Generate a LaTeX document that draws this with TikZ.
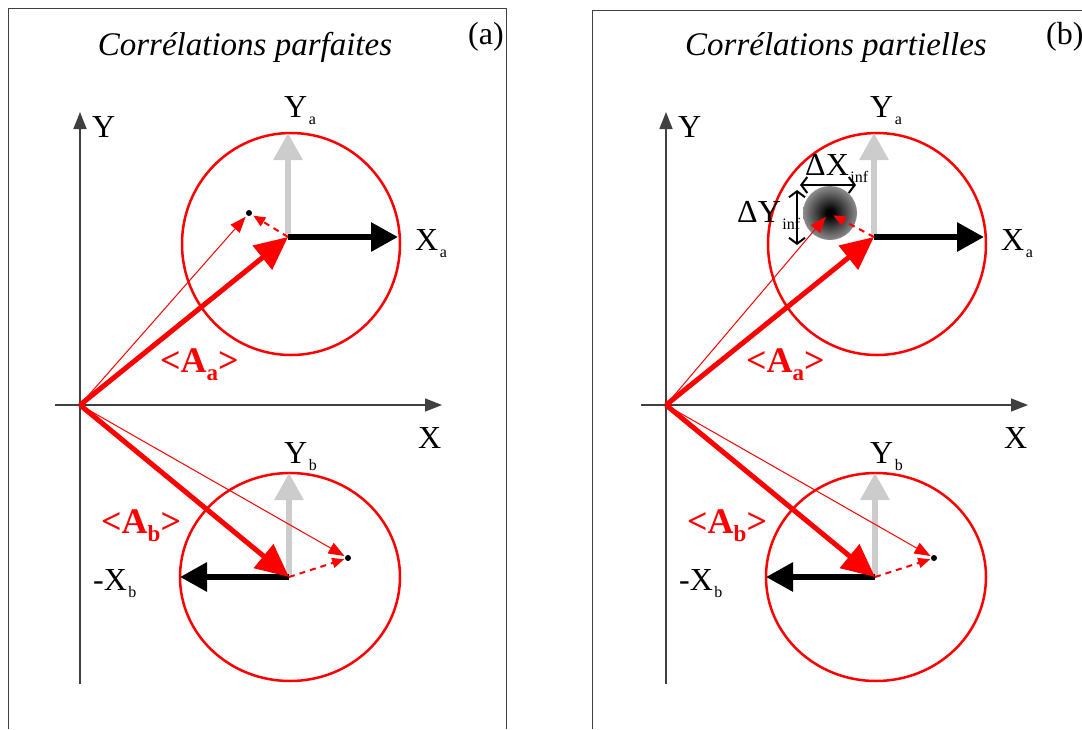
\documentclass[tikz,border=0pt]{standalone}
\usepackage{fontspec}
\setmainfont{Liberation Serif}
\usetikzlibrary{arrows.meta}
\definecolor{vecred}{HTML}{FF0000}
\definecolor{axisgray}{HTML}{CCCCCC}
\definecolor{framegray}{HTML}{404040}
\pgfdeclareradialshading{blurdisk}{\pgfpoint{0bp}{0bp}}{color(0bp)=(black); color(3bp)=(black); color(25bp)=(black!45); color(50bp)=(black!45)}
\newcommand{\lsub}[1]{\kern1.5pt\raisebox{-7pt}{\fontsize{16}{16}\selectfont #1}}
\newcommand{\bsub}[1]{\raisebox{-8pt}{\fontsize{23}{23}\selectfont\bfseries #1}}
\tikzset{
  lbl/.style={anchor=base west, inner sep=0pt, font=\fontsize{32}{32}\selectfont},
  avglbl/.style={lbl, text=vecred, font=\fontsize{36}{36}\selectfont\bfseries},
  mainaxis/.style={framegray, line width=1.5pt, -{Triangle[length=17pt,width=13pt]}},
  bigarrow/.style={line width=6pt, -{Triangle[length=27pt,width=28pt]}},
  meanvec/.style={vecred, line width=5pt, -{Triangle[length=33pt,width=30pt]}},
  shotvec/.style={vecred, line width=1pt, -{Triangle[length=16pt,width=12pt]}},
  devvec/.style={vecred, line width=2pt, dash pattern=on 6pt off 5pt, -{Triangle[length=12pt,width=10pt]}},
  ring/.style={vecred, line width=2.5pt},
  spread/.style={line width=2pt, {Straight Barb[length=6pt,width=16pt]}-{Straight Barb[length=6pt,width=16pt]}}
}

\begin{document}
\begin{tikzpicture}[x=1pt, y=-1pt, line join=round]
  \useasboundingbox (0,0) rectangle (1082,729);
  % frames
  \draw[framegray, line width=1pt] (8,729) -- (8,8) -- (506,8) -- (506,729);
  \draw[framegray, line width=1pt] (592,729) -- (592,10) -- (1082,10);
  % blurred spot of panel (b)
  \coordinate (spot) at (830,213);
  \shade[shading=blurdisk] (spot) circle (27pt);
  \foreach \p/\dx/\px/\ttl/\tx/\lx in {a/0/249/parfaites/245/468, b/586/243/partielles/250/460} {
    \begin{scope}[xshift=\dx pt]
      \coordinate (O\p) at (80,405);
      \coordinate (Ytop\p) at (80,112);
      \coordinate (Ybot\p) at (80,684);
      \coordinate (Xl\p) at (55,405);
      \coordinate (Xr\p) at (442,405);
      \coordinate (Ca\p) at (288,237);
      \coordinate (Cb\p) at (289,577);
      \coordinate (Yatip\p) at (288,133);
      \coordinate (Xatip\p) at (398,237);
      \coordinate (Ybtip\p) at (289,473);
      \coordinate (Xbtip\p) at (180,577);
      \coordinate (Pa\p) at (\px,213);
      \coordinate (Pb\p) at (348,558);
      % title
      \node[lbl, anchor=base, font=\fontsize{33}{33}\selectfont\itshape] (title\p) at (\tx,55) {Corrélations \ttl};
      \node[lbl] (tag\p) at (\lx,44) {(\p)};
      % axes
      \draw[mainaxis] (Ybot\p) -- (Ytop\p);
      \draw[mainaxis] (Xl\p) -- (Xr\p);
      \node[lbl] (ylbl\p) at (92,137) {Y};
      \node[lbl] (xlbl\p) at (418,448) {X};
      % circles
      \draw[ring] (291,244) ellipse [x radius=109pt, y radius=111pt];
      \draw[ring] (290,577) ellipse [x radius=110pt, y radius=104pt];
      % local frames
      \draw[bigarrow, axisgray] (Ca\p) -- (Yatip\p);
      \draw[bigarrow, axisgray] (Cb\p) -- (Ybtip\p);
      \draw[bigarrow] (Ca\p) -- (Xatip\p);
      \draw[bigarrow] (Cb\p) -- (Xbtip\p);
      \node[lbl] (ya\p) at (284,117) {Y\lsub{a}};
      \node[lbl] (xa\p) at (415,250) {X\lsub{a}};
      \node[lbl] (yb\p) at (284,463) {Y\lsub{b}};
      \node[lbl] (xb\p) at (93,590) {-X\lsub{b}};
      % vectors
      \draw[shotvec, shorten >=5pt] (O\p) -- (Pa\p);
      \draw[shotvec, shorten >=4pt] (O\p) -- (Pb\p);
      \draw[devvec, shorten >=5pt] (Ca\p) -- (Pa\p);
      \draw[devvec, shorten >=4pt] (Cb\p) -- (Pb\p);
      \draw[meanvec] (O\p) -- (Ca\p);
      \draw[meanvec] (O\p) -- (Cb\p);
      \fill (Pa\p) circle (3pt);
      \fill (Pb\p) circle (3pt);
      \node[avglbl] (mean-a\p) at (160,372) {<A\bsub{a}>};
      \node[avglbl] (mean-b\p) at (101,533) {<A\bsub{b}>};
    \end{scope}
  }
  % widths of the spot
  \coordinate (dxl) at (800,185);
  \coordinate (dxr) at (856,185);
  \coordinate (dyt) at (797,190);
  \coordinate (dyb) at (797,245);
  \draw[spread] (dxl) -- (dxr);
  \draw[spread] (dyt) -- (dyb);
  \node[lbl] (dxlbl) at (805,175) {ΔX\lsub{inf}};
  \node[lbl] (dylbl) at (737,222) {ΔY\lsub{inf}};
\end{tikzpicture}
\end{document}
